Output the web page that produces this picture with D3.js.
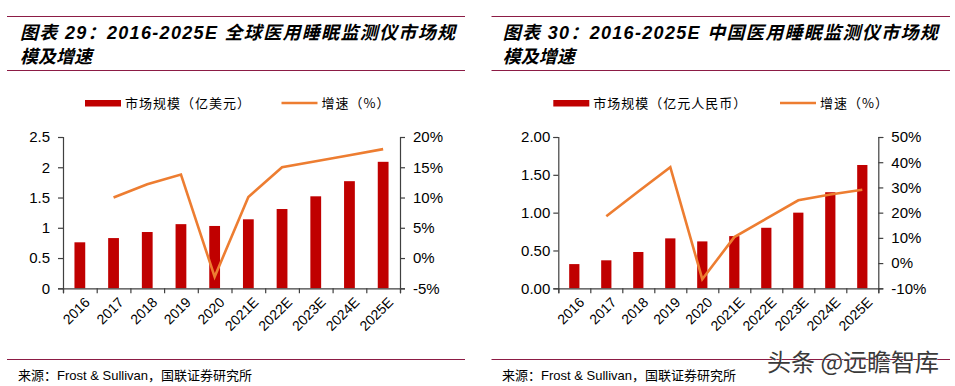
<!DOCTYPE html>
<html><head><meta charset="utf-8">
<script src="https://cdn.jsdelivr.net/npm/d3@7"></script>
<style>
body{margin:0;background:#fff;}
svg{display:block;}
</style></head>
<body>
<svg id="c" width="955" height="386"></svg>
<script>
const categories = ["2016","2017","2018","2019","2020","2021E","2022E","2023E","2024E","2025E"];
const globalSize = [0.76,0.83,0.93,1.06,1.03,1.14,1.31,1.52,1.77,2.09];
const globalGrowth = [null,10.0,12.2,13.8,-3.1,10.1,15.0,16.0,17.0,18.0];
const chinaSize = [0.32,0.37,0.48,0.66,0.62,0.69,0.80,1.00,1.27,1.63];
const chinaGrowth = [null,18.6,28.4,38.0,-6.4,10.3,17.6,24.9,27.2,29.1];
const leftTicksGlobal = [0,0.5,1,1.5,2,2.5];
const rightTicksGlobal = [-5,0,5,10,15,20];
const leftTicksChina = [0,0.5,1,1.5,2];
const rightTicksChina = [-10,0,10,20,30,40,50];
const titles = ["图表 29：2016-2025E 全球医用睡眠监测仪市场规","图表 30：2016-2025E 中国医用睡眠监测仪市场规"];
const titles2 = "模及增速";
const legendBar = ["市场规模（亿美元）","市场规模（亿元人民币）"];
const legendLine = "增速（%）";
const source = "来源：Frost & Sullivan，国联证券研究所";

const svg = d3.select("#c");
const RED = "#C00000", ORANGE = "#ED7D31", RULE = "#8c1c45", AXIS = "#404040";
const latin = "Liberation Sans, Arial, sans-serif";
const cjk = "'Noto Sans CJK SC', sans-serif";

function panel(o){
  const g = svg.append("g");
  g.append("line").attr("x1",o.ruleX0).attr("x2",o.ruleX1).attr("y1",16.5).attr("y2",16.5).attr("stroke",RULE).attr("stroke-width",1);
  g.append("line").attr("x1",o.ruleX0).attr("x2",o.ruleX1).attr("y1",70.5).attr("y2",70.5).attr("stroke",RULE).attr("stroke-width",1);
  g.append("line").attr("x1",o.ruleX0).attr("x2",o.ruleX1).attr("y1",359.5).attr("y2",359.5).attr("stroke",RULE).attr("stroke-width",1);
  g.append("text").attr("x",o.titleX).attr("y",39).attr("font-family",latin+","+cjk)
    .attr("font-weight","bold").attr("font-style","italic").attr("font-size",18)
    .attr("textLength",o.titleW).attr("lengthAdjust","spacing").text(o.title);
  g.append("text").attr("x",o.titleX).attr("y",63).attr("font-family",cjk)
    .attr("font-weight","bold").attr("font-style","italic").attr("font-size",18)
    .text(titles2);
  g.append("text").attr("x",o.srcX).attr("y",380).attr("font-size",13).attr("fill","#000")
    .attr("font-family",latin+","+cjk).text(source);

  const x = d3.scaleBand().domain(categories).range([o.x0,o.x1]).paddingInner(0.68).paddingOuter(0.34);
  const xb = d3.scaleLinear().domain([0,categories.length]).range([o.x0,o.x1]);
  const yL = d3.scaleLinear().domain(o.leftDom).range([o.yB,o.yT]);
  const yR = d3.scaleLinear().domain(o.rightDom).range([o.yB,o.yT]);

  g.selectAll("rect.bar").data(o.size).join("rect").attr("class","bar")
    .attr("x",(d,i)=>x(categories[i])).attr("width",x.bandwidth())
    .attr("y",d=>yL(d)).attr("height",d=>yL(0)-yL(d)).attr("fill",RED);

  const axL = g.append("g").attr("transform",`translate(${o.x0},0)`)
    .call(d3.axisLeft(yL).tickValues(o.leftTicks).tickSize(5).tickPadding(o.padL).tickFormat(o.fmtL));
  const axR = g.append("g").attr("transform",`translate(${o.x1},0)`)
    .call(d3.axisRight(yR).tickValues(o.rightTicks).tickSize(5).tickPadding(8).tickFormat(d=>d+"%"));
  const axB = g.append("g").attr("transform",`translate(0,${o.yB})`)
    .call(d3.axisBottom(xb).tickValues(d3.range(categories.length+1)).tickSize(5).tickFormat(""));
  [axL,axR,axB].forEach(a=>{
    a.select(".domain").attr("stroke",AXIS).attr("stroke-width",1.2);
    a.selectAll(".tick line").attr("stroke",AXIS).attr("stroke-width",1.2);
    a.selectAll("text").attr("font-family",latin).attr("font-size",15).attr("fill","#000");
  });
  g.selectAll("text.xl").data(categories).join("text").attr("class","xl")
    .attr("transform",d=>`translate(${x(d)+x.bandwidth()/2+4},${o.yB+8}) rotate(-45)`)
    .attr("text-anchor","end").attr("dy","0.7em").attr("font-family",latin).attr("font-size",14).text(d=>d);

  const pts = o.growth.map((v,i)=>[v,i]).filter(p=>p[0]!==null);
  g.append("path").datum(pts)
    .attr("d",d3.line().x(p=>x(categories[p[1]])+x.bandwidth()/2).y(p=>yR(p[0])))
    .attr("fill","none").attr("stroke",ORANGE).attr("stroke-width",2.6).attr("stroke-linejoin","miter");

  g.append("rect").attr("x",o.lgX).attr("y",100).attr("width",36).attr("height",6.5).attr("fill",RED);
  g.append("text").attr("x",o.lgX+40).attr("y",108).attr("font-family",cjk).attr("font-size",13)
    .attr("letter-spacing",1).text(o.legendBar);
  g.append("line").attr("x1",o.lgX2).attr("x2",o.lgX2+36).attr("y1",103).attr("y2",103)
    .attr("stroke",ORANGE).attr("stroke-width",2.6);
  g.append("text").attr("x",o.lgX2+40).attr("y",108).attr("font-family",cjk).attr("font-size",13)
    .attr("letter-spacing",1).text(legendLine);
}

panel({ruleX0:7,ruleX1:465,titleX:20,titleW:435,title:titles[0],srcX:18,
  x0:63,x1:400,yT:137,yB:288.3,leftDom:[0,2.5],rightDom:[-5,20],
  leftTicks:leftTicksGlobal,rightTicks:rightTicksGlobal,fmtL:d=>d3.format("")(d),padL:8,
  size:globalSize,growth:globalGrowth,lgX:85,lgX2:281.5,legendBar:legendBar[0]});
panel({ruleX0:491.5,ruleX1:950,titleX:502.7,titleW:435,title:titles[1],srcX:502,
  x0:558.3,x1:878.3,yT:137,yB:288.3,leftDom:[0,2],rightDom:[-10,50],
  leftTicks:leftTicksChina,rightTicks:rightTicksChina,fmtL:d3.format(".2f"),padL:3,
  size:chinaSize,growth:chinaGrowth,lgX:553.3,lgX2:780,legendBar:legendBar[1]});

svg.append("text").attr("x",767).attr("y",371).attr("font-family",cjk).attr("font-size",24)
  .attr("fill","#3a3a3a").attr("stroke","#fff").attr("stroke-width",0.6).attr("paint-order","stroke")
  .text("头条 @远瞻智库");
</script>
</body></html>
